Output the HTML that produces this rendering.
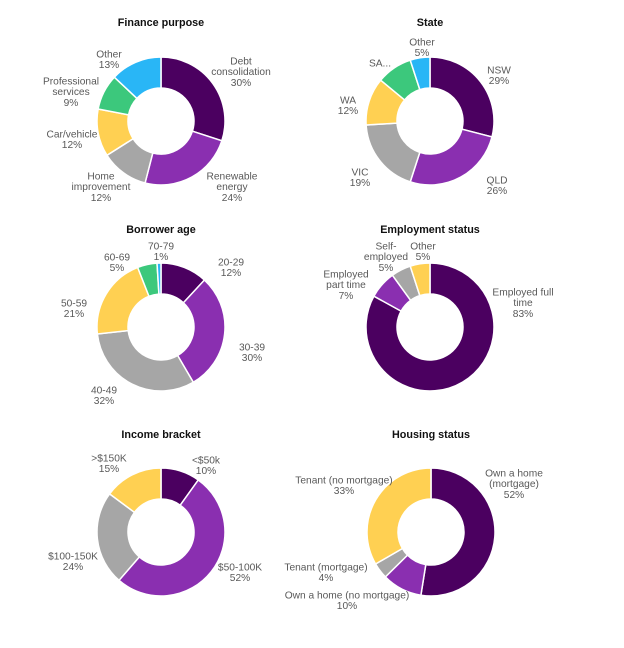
<!DOCTYPE html>
<html><head><meta charset="utf-8"><style>
body{margin:0;background:#fff;}
svg{display:block;font-family:"Liberation Sans",Arial,sans-serif;}
.t{font-weight:bold;font-size:10.8px;fill:#111;text-anchor:middle;}
.l{font-size:10.2px;fill:#595959;text-anchor:middle;}
</style></head><body>
<svg id="c" width="624" height="648" viewBox="0 0 624 648"></svg>
<script>
const C={dp:"#4b0060",p:"#8a2fb0",g:"#a6a6a6",y:"#ffd052",gr:"#3cc87c",b:"#29b6f6"};
const financeCats=["Debt consolidation","Renewable energy","Home improvement","Car/vehicle","Professional services","Other"];
const financeVals=[30,24,12,12,9,13];
const stateCats=["NSW","QLD","VIC","WA","SA","Other"];
const stateVals=[29,26,19,12,9,5];
const ageCats=["20-29","30-39","40-49","50-59","60-69","70-79"];
const ageVals=[12,30,32,21,5,1];
const empCats=["Employed full time","Employed part time","Self-employed","Other"];
const empVals=[83,7,5,5];
const incomeCats=["<$50k","$50-100K","$100-150K",">$150K"];
const incomeVals=[10,52,24,15];
const housingCats=["Own a home (mortgage)","Own a home (no mortgage)","Tenant (mortgage)","Tenant (no mortgage)"];
const housingVals=[52,10,4,33];

const charts=[
 {name:"finance-purpose",title:"Finance purpose",cx:161,cy:121,cats:financeCats,vals:financeVals,cols:[C.dp,C.p,C.g,C.y,C.gr,C.b],
  labels:[[241,61,["Debt","consolidation"]],[232,176,["Renewable","energy"]],[101,176,["Home","improvement"]],[72,134,["Car/vehicle"]],[71,81,["Professional","services"]],[109,54,["Other"]]]},
 {name:"state",title:"State",cx:430,cy:121,cats:stateCats,vals:stateVals,cols:[C.dp,C.p,C.g,C.y,C.gr,C.b],
  labels:[[499,70,["NSW"]],[497,180,["QLD"]],[360,172,["VIC"]],[348,100,["WA"]],[380,63,["SA..."],true],[422,42,["Other"]]]},
 {name:"borrower-age",title:"Borrower age",cx:161,cy:327,cats:ageCats,vals:ageVals,cols:[C.dp,C.p,C.g,C.y,C.gr,C.b],
  labels:[[231,262,["20-29"]],[252,347,["30-39"]],[104,390,["40-49"]],[74,303,["50-59"]],[117,257,["60-69"]],[161,246,["70-79"]]]},
 {name:"employment-status",title:"Employment status",cx:430,cy:327,cats:empCats,vals:empVals,cols:[C.dp,C.p,C.g,C.y],
  labels:[[523,292,["Employed full","time"]],[346,274,["Employed","part time"]],[386,246,["Self-","employed"]],[423,246,["Other"]]]},
 {name:"income-bracket",title:"Income bracket",cx:161,cy:532,cats:incomeCats,vals:incomeVals,cols:[C.dp,C.p,C.g,C.y],
  labels:[[206,460,["<$50k"]],[240,567,["$50-100K"]],[73,556,["$100-150K"]],[109,458,[">$150K"]]]},
 {name:"housing-status",title:"Housing status",cx:431,cy:532,cats:housingCats,vals:housingVals,cols:[C.dp,C.p,C.g,C.y],
  labels:[[514,473,["Own a home","(mortgage)"]],[347,595,["Own a home (no mortgage)"]],[326,567,["Tenant (mortgage)"]],[344,480,["Tenant (no mortgage)"]]]}
];
const titleY=[22,229,434];
const svg=document.getElementById('c');
const NS="http://www.w3.org/2000/svg";
const R=64,r=33;
function pt(cx,cy,rad,a){return [cx+rad*Math.sin(a),cy-rad*Math.cos(a)];}
charts.forEach((ch,ci)=>{
 const g=document.createElementNS(NS,'g');
 
 
 svg.appendChild(g);
 const t=document.createElementNS(NS,'text');
 
 
 t.setAttribute('class','t');t.setAttribute('x',ch.cx);t.setAttribute('y',titleY[Math.floor(ci/2)]+4);
 t.textContent=ch.title;g.appendChild(t);
 const tot=ch.vals.reduce((a,b)=>a+b,0);
 let a0=0;
 ch.vals.forEach((v,i)=>{
  const a1=a0+v/tot*2*Math.PI;
  const [x1,y1]=pt(ch.cx,ch.cy,R,a0),[x2,y2]=pt(ch.cx,ch.cy,R,a1);
  const [x3,y3]=pt(ch.cx,ch.cy,r,a1),[x4,y4]=pt(ch.cx,ch.cy,r,a0);
  const lg=(a1-a0)>Math.PI?1:0;
  const p=document.createElementNS(NS,'path');
  
  
  p.setAttribute('d',`M${x1},${y1}A${R},${R} 0 ${lg} 1 ${x2},${y2}L${x3},${y3}A${r},${r} 0 ${lg} 0 ${x4},${y4}Z`);
  p.setAttribute('fill',ch.cols[i]);p.setAttribute('stroke','#fff');p.setAttribute('stroke-width','1.5');
  g.appendChild(p);
  a0=a1;
  const L=ch.labels[i];
  const tx=document.createElementNS(NS,'text');
  
  
  tx.setAttribute('class','l');
  const lines=L[3]?L[2]:L[2].concat([v+'%']);
  lines.forEach((s,k)=>{const sp=document.createElementNS(NS,'tspan');sp.setAttribute('x',L[0]);sp.setAttribute('y',L[1]+3.5+k*10.7);sp.textContent=s;tx.appendChild(sp);});
  g.appendChild(tx);
 });
});
</script>
</body></html>
